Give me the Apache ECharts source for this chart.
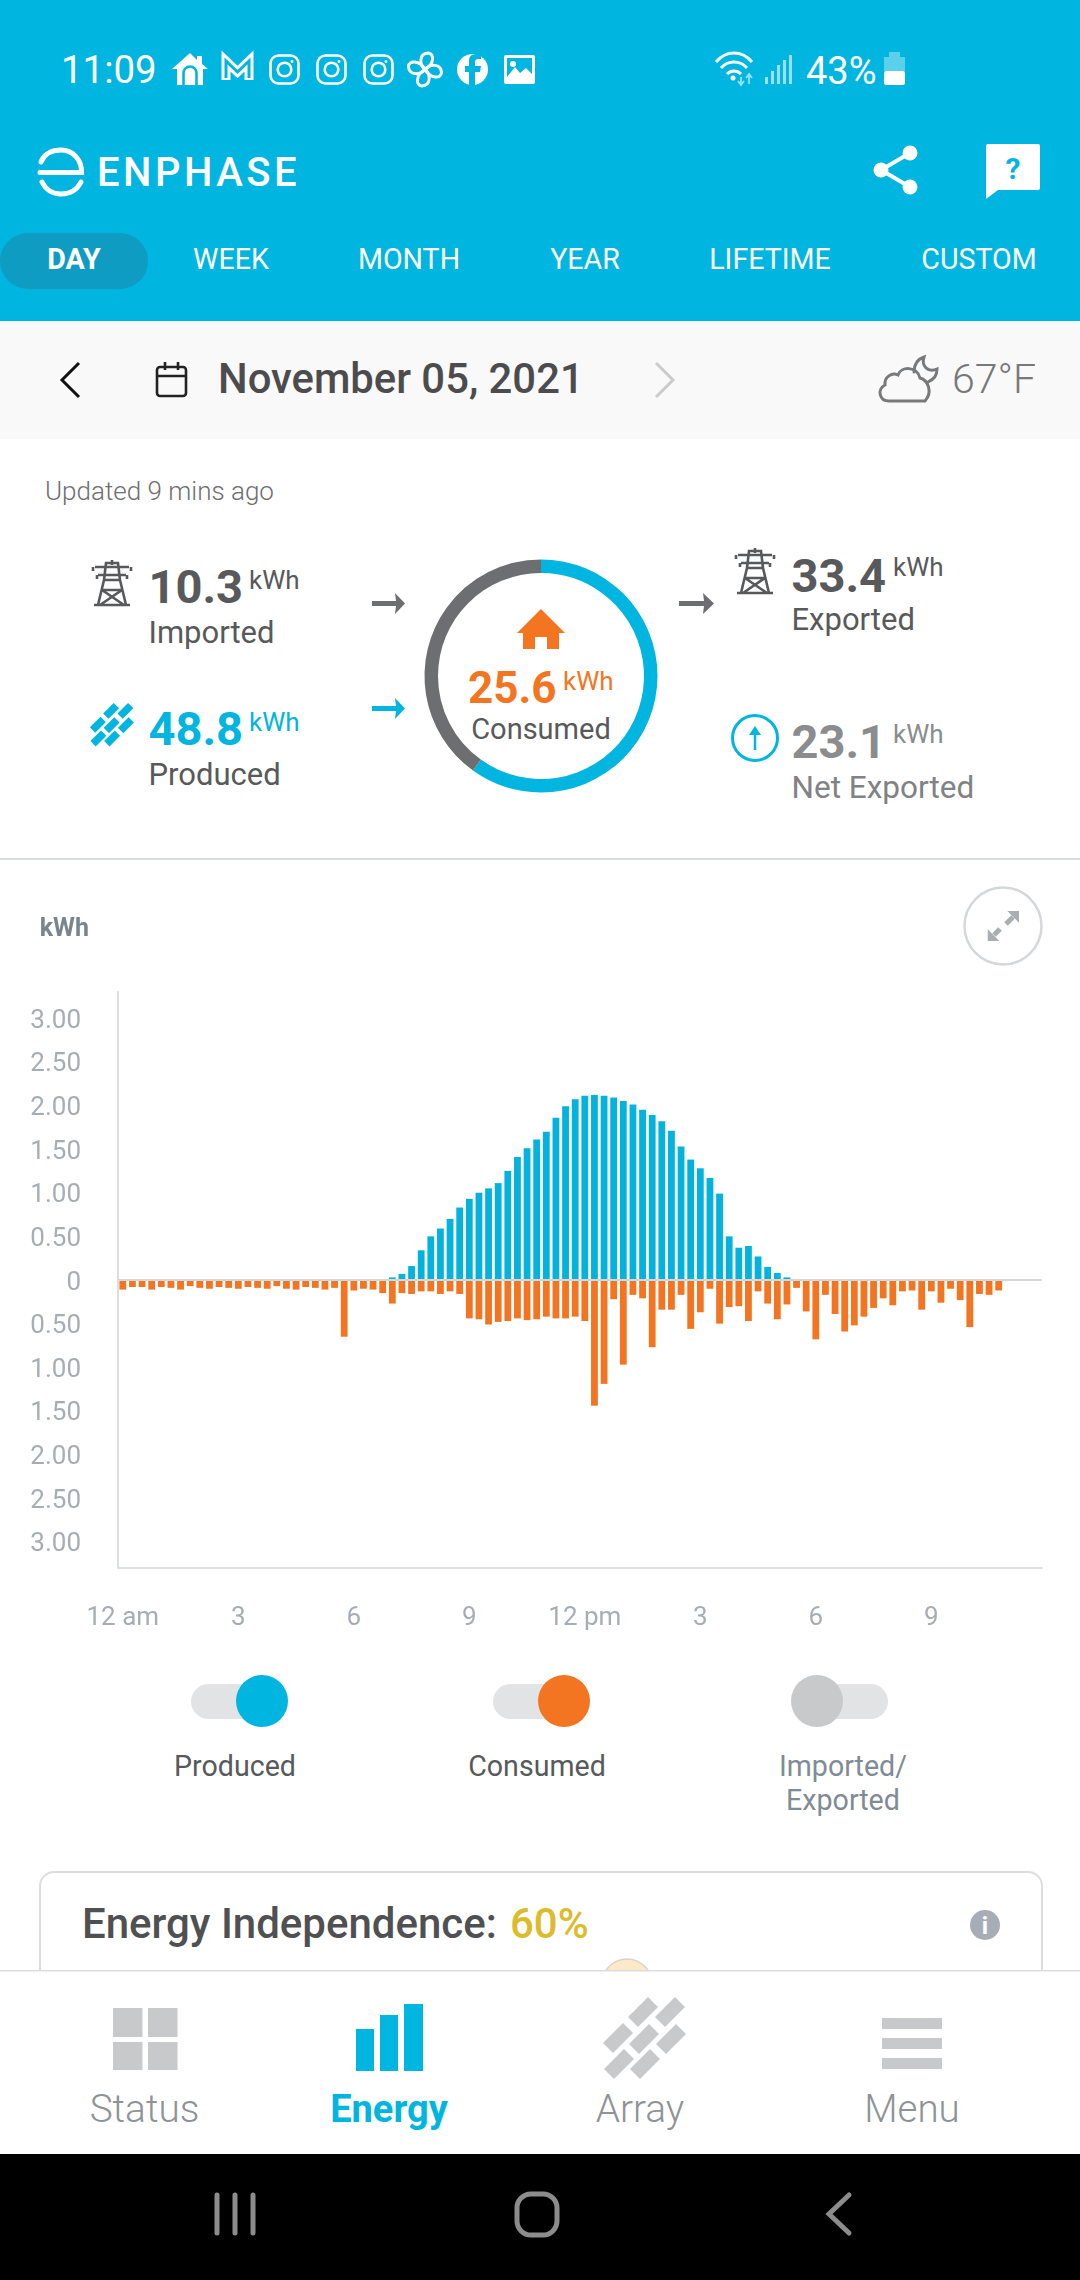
<!DOCTYPE html>
<html>
<head>
<meta charset="utf-8">
<title>Enphase energy</title>
<script src="https://cdn.jsdelivr.net/npm/echarts@6/dist/echarts.min.js"></script>
<style>
  html, body { margin: 0; padding: 0; background: #fff; }
  #page { position: relative; width: 1080px; height: 2280px; overflow: hidden; }
  #chrome, #main { position: absolute; left: 0; top: 0; width: 1080px; height: 2280px; }
  text { font-family: Roboto, sans-serif; }
</style>
</head>
<body>
<div id="page">
<svg id="chrome" width="1080" height="2280" viewBox="0 0 1080 2280" xmlns="http://www.w3.org/2000/svg">
  <defs>
    <path id="panel" d="M5 -15 L15 -5 L-5 15 L-15 5 Z"/>
    <g id="array">
      <use href="#panel" x="53" y="27"/><use href="#panel" x="80" y="27"/>
      <use href="#panel" x="28" y="53"/><use href="#panel" x="54" y="54"/><use href="#panel" x="81" y="54"/>
      <use href="#panel" x="29" y="79"/><use href="#panel" x="55" y="79"/>
    </g>
    <g id="pylon" fill="none" stroke="#58595b" stroke-width="2.6">
      <path d="M20 0 V5 M3 7 H37 M6 15 H34 M1 7 V11 M39 7 V11 M5 15 V19 M35 15 V19 M14 3 H26 L28 20 H12 Z M12 20 L6 45 M28 20 L34 45 M12 20 L28 20 M10 30 H30 M10 30 L32 45 M30 30 L8 45 M2 45 H38"/>
    </g>
    <g id="insta" fill="none" stroke="#fff" stroke-width="2.6">
      <rect x="1.5" y="1.5" width="28" height="28" rx="8"/>
      <circle cx="15.5" cy="15.5" r="6.8"/>
      <circle cx="23" cy="7.5" r="1.4" fill="#fff" stroke="none"/>
    </g>
    <path id="blade" d="M0 0 C-6 -5 -6 -16 3 -16.5 C10 -16 9 -5 0 0"/>
  </defs>

  <!-- header -->
  <rect x="0" y="0" width="1080" height="321" fill="#00b5df"/>
  <text x="61" y="83" font-size="38.4" fill="#fff">11:09</text>
  <path d="M190 53 L197 60 V56 H202 V64 L208 69 L203 69 V85 H177 V69 L172 69 Z" fill="#fff"/>
  <path d="M183.5 85 V73 A6.5 6.5 0 0 1 196.5 73 V85" fill="none" stroke="#00b5df" stroke-width="2.6"/>
  <path d="M226 80 V61 L237.5 72 L249 61 V80" fill="none" stroke="#fff" stroke-width="9"/>
  <path d="M226 78 V61 L237.5 72 L249 61 V78" fill="none" stroke="#00b5df" stroke-width="3"/>
  <use href="#insta" x="269" y="54"/><use href="#insta" x="316" y="54"/><use href="#insta" x="363" y="54"/>
  <g fill="none" stroke="#fff" stroke-width="3" transform="translate(425 69.5)">
    <use href="#blade"/>
    <use href="#blade" transform="rotate(90)"/>
    <use href="#blade" transform="rotate(180)"/>
    <use href="#blade" transform="rotate(270)"/>
  </g>
  <circle cx="472.5" cy="69.5" r="15.5" fill="#fff"/>
  <path d="M475 85 V72 H480 L481 66 H475 V62 C475 60 476 59 478 59 H481 V54 H476 C471 54 469 57 469 61 V66 H465 V72 H469 V85 Z" fill="#00b5df"/>
  <rect x="504" y="55" width="31" height="29" rx="2" fill="#fff"/>
  <path d="M507 58 H532 V74 L526 68 L520 73 L515 67 L507 77 Z" fill="#00b5df"/>
  <circle cx="513" cy="64" r="3" fill="#fff"/>

  <g fill="none" stroke="#fff" stroke-width="3">
    <path d="M716 62 C726 50 742 50 752 62" opacity="0.95"/>
    <path d="M721 68 C728 60 740 60 747 68"/>
    <path d="M727 74 C731 70 737 70 741 74"/>
  </g>
  <circle cx="733" cy="78" r="2.5" fill="#fff"/>
  <path d="M741 77 V84 M738 81 L741 85 L744 81 M749 84 V75 M746 78 L749 74 L752 78" fill="none" stroke="#fff" stroke-width="1.8" opacity="0.6"/>
  <g fill="#fff" opacity="0.6">
    <rect x="765" y="77" width="3" height="7"/><rect x="771" y="71" width="3" height="13"/>
    <rect x="777" y="65" width="3" height="19"/><rect x="783" y="60" width="3" height="24"/>
    <rect x="789" y="55" width="3" height="29"/>
  </g>
  <text x="806" y="84" font-size="38" fill="#fff">43%</text>
  <rect x="889" y="52" width="11" height="5" fill="#5ccfea"/>
  <rect x="884" y="57" width="21" height="14" fill="#5ccfea"/>
  <rect x="884" y="71" width="21" height="14" rx="2" fill="#fff"/>

  <!-- logo -->
  <g fill="none" stroke="#fff" stroke-width="5" stroke-linecap="round">
    <path d="M41 162 C44 154 52 150 61 150 C73 150 82 160 81.5 172.5 H40"/>
    <path d="M42 182 C46 190 53 194 61 194 C70 194 77 190 81 182"/>
  </g>
  <text x="97" y="186" font-size="40" font-weight="500" letter-spacing="3.5" fill="#fff">ENPHASE</text>
  <path d="M910 153 L881 170 L910 187" fill="none" stroke="#fff" stroke-width="4"/>
  <circle cx="910" cy="153" r="7.5" fill="#fff"/><circle cx="881" cy="170" r="7.5" fill="#fff"/><circle cx="910" cy="187" r="7.5" fill="#fff"/>
  <path d="M988 144 H1038 Q1040 144 1040 146 V188 Q1040 190 1038 190 H998 L986 199 V146 Q986 144 988 144 Z" fill="#fff"/>
  <text x="1013" y="179" font-size="30" font-weight="700" text-anchor="middle" fill="#00b5df">?</text>

  <!-- tabs -->
  <rect x="0" y="233" width="148" height="56" rx="28" fill="#0e9cc2"/>
  <text x="74" y="269" font-size="28.6" font-weight="700" text-anchor="middle" fill="#fff">DAY</text>
  <text x="231" y="269" font-size="28.6" text-anchor="middle" fill="#fff">WEEK</text>
  <text x="409" y="269" font-size="28.6" text-anchor="middle" fill="#fff">MONTH</text>
  <text x="585" y="269" font-size="28.6" text-anchor="middle" fill="#fff">YEAR</text>
  <text x="770" y="269" font-size="28.6" text-anchor="middle" fill="#fff">LIFETIME</text>
  <text x="979" y="269" font-size="28.6" text-anchor="middle" fill="#fff">CUSTOM</text>

  <!-- date bar -->
  <rect x="0" y="321" width="1080" height="118" fill="#f9f9f9"/>
  <path d="M79 363 L62 380 L79 397" fill="none" stroke="#111" stroke-width="3"/>
  <g fill="none" stroke="#222" stroke-width="2.6">
    <rect x="157" y="367" width="29" height="29" rx="3"/>
    <path d="M157 376 H186 M165 362 V370 M178 362 V370"/>
  </g>
  <text x="218" y="393" font-size="41.8" font-weight="500" fill="#4c4c4e">November 05, 2021</text>
  <path d="M656 363 L673 380 L656 397" fill="none" stroke="#cbcbcb" stroke-width="3"/>
  <g fill="none" stroke="#78797b" stroke-width="3" stroke-linecap="round">
    <path d="M889 401 C879 401 877 389 885 385 C884 377 892 372 898 375 C901 366 917 366 920 378 C928 380 933 392 925 401 Z"/>
    <path d="M914 372 C914 363 918 359 924 357 C921 366 928 373 937 369 C937 376 934 379 928 382"/>
  </g>
  <text x="952" y="393" font-size="41" font-weight="300" fill="#77787a">67°F</text>

  <!-- summary -->
  <text x="45" y="500" font-size="26" font-weight="300" fill="#6d6e71">Updated 9 mins ago</text>

  <use href="#pylon" x="92" y="560"/>
  <text x="148.5" y="603" font-size="47" font-weight="700" fill="#58595b">10.3</text>
  <text x="249" y="589" font-size="26" fill="#58595b">kWh</text>
  <text x="148.5" y="643" font-size="31" fill="#58595b">Imported</text>

  <use href="#array" transform="translate(83 696.6) scale(0.53)" fill="#00b5df"/>
  <text x="148.5" y="745" font-size="47" font-weight="700" fill="#00b5df">48.8</text>
  <text x="249" y="731" font-size="26" fill="#00b5df">kWh</text>
  <text x="148.5" y="785" font-size="31" fill="#58595b">Produced</text>

  <path d="M372 601 H396 L395 593 L405 603.5 L395 614 L396 606 H372 Z" fill="#6d6e71"/>
  <path d="M372 706 H396 L395 698 L405 708.5 L395 719 L396 711 H372 Z" fill="#00b5df"/>
  <path d="M679 601 H704 L703 593 L714 603.5 L703 614 L704 606 H679 Z" fill="#6d6e71"/>

  <path d="M541 609 L565 633 H559 V649 H547 V637 H535 V649 H523 V633 H517 Z" fill="#f47521"/>
  <text x="468" y="703" font-size="44" font-weight="700" fill="#f47521">25.6</text>
  <text x="563" y="690" font-size="26" fill="#f47521">kWh</text>
  <text x="541" y="739" font-size="29" text-anchor="middle" fill="#58595b">Consumed</text>

  <use href="#pylon" x="735" y="548"/>
  <text x="791.5" y="592" font-size="47" font-weight="700" fill="#58595b">33.4</text>
  <text x="893" y="576" font-size="26" fill="#58595b">kWh</text>
  <text x="791.5" y="630" font-size="31" fill="#58595b">Exported</text>

  <circle cx="755" cy="738" r="22.5" fill="none" stroke="#00b5df" stroke-width="3"/>
  <path d="M755 750 V732" stroke="#00b5df" stroke-width="2.5" fill="none"/>
  <path d="M749 735 L755 726 L761 735 Z" fill="#00b5df"/>
  <text x="791.5" y="758" font-size="47" font-weight="700" fill="#8a8c8e">23.1</text>
  <text x="893" y="743" font-size="26" fill="#8a8c8e">kWh</text>
  <text x="791.5" y="798" font-size="31.5" fill="#808285">Net Exported</text>

  <rect x="0" y="858" width="1080" height="2" fill="#d9dcdf"/>

  <!-- expand button -->
  <circle cx="1003" cy="926" r="38.5" fill="#fff" stroke="#d5d8da" stroke-width="2.5"/>
  <path d="M1007.3 911 H1019 V922.7 Z M987.7 929.3 V941 H999.3 Z" fill="#a9aeb3"/>
  <path d="M1013 917 L1006 924 M1000 929 L994 935" fill="none" stroke="#a9aeb3" stroke-width="5"/>

  <!-- series toggles -->
  <rect x="191" y="1684" width="80" height="35" rx="17.5" fill="#e2e3e5"/>
  <circle cx="262" cy="1701" r="26" fill="#00b5df"/>
  <rect x="493" y="1684" width="80" height="35" rx="17.5" fill="#e2e3e5"/>
  <circle cx="564" cy="1701" r="26" fill="#f47521"/>
  <rect x="808" y="1684" width="80" height="35" rx="17.5" fill="#e2e3e5"/>
  <circle cx="817" cy="1701" r="26" fill="#c8c9cb"/>
  <text x="235" y="1776" font-size="28.6" text-anchor="middle" fill="#58595b">Produced</text>
  <text x="537" y="1776" font-size="28.6" text-anchor="middle" fill="#58595b">Consumed</text>
  <text x="843" y="1776" font-size="28.6" text-anchor="middle" fill="#7f8b95">Imported/</text>
  <text x="843" y="1810" font-size="28.6" text-anchor="middle" fill="#7f8b95">Exported</text>

  <!-- independence card -->
  <rect x="40" y="1872" width="1002" height="180" rx="14" fill="#fff" stroke="#dcdddf" stroke-width="2"/>
  <text x="82" y="1938" font-size="42" font-weight="500" fill="#4f5052">Energy Independence:</text>
  <text x="510" y="1938" font-size="42" font-weight="500" fill="#dcbc2c">60%</text>
  <circle cx="985" cy="1925" r="15" fill="#a5aeb7"/>
  <text x="985" y="1934" font-size="24" font-weight="700" text-anchor="middle" fill="#fff">i</text>
  <circle cx="627" cy="1984" r="25" fill="#fde8c8" stroke="#d8d4cc" stroke-width="1.5"/>

  <!-- bottom nav -->
  <rect x="0" y="1970" width="1080" height="184" fill="#fff"/>
  <rect x="0" y="1970" width="1080" height="1.5" fill="#dcdddf"/>
  <g fill="#c8c9cb">
    <rect x="113" y="2008" width="29.5" height="29"/><rect x="148" y="2008" width="29.5" height="29"/>
    <rect x="113" y="2042" width="29.5" height="28"/><rect x="148" y="2042" width="29.5" height="28"/>
  </g>
  <text x="144.5" y="2122" font-size="38.8" font-weight="300" text-anchor="middle" fill="#8f9397">Status</text>
  <g fill="#00b5df">
    <rect x="356" y="2029" width="18" height="42"/><rect x="380" y="2015" width="18" height="56"/><rect x="404" y="2004" width="19" height="67"/>
  </g>
  <text x="389" y="2122" font-size="38" font-weight="700" text-anchor="middle" fill="#00b5df">Energy</text>
  <use href="#array" transform="translate(590 1985)" fill="#c8c9cb"/>
  <text x="640" y="2122" font-size="38.8" font-weight="300" text-anchor="middle" fill="#8f9397">Array</text>
  <g fill="#c8c9cb">
    <rect x="882" y="2018" width="60" height="11"/><rect x="882" y="2038" width="60" height="11"/><rect x="882" y="2058" width="60" height="11"/>
  </g>
  <text x="912" y="2122" font-size="38.5" font-weight="300" text-anchor="middle" fill="#8f9397">Menu</text>

  <!-- android nav -->
  <rect x="0" y="2154" width="1080" height="126" fill="#000"/>
  <g fill="none" stroke="#8c8c8c" stroke-width="5" stroke-linecap="round">
    <path d="M217 2195 V2233 M235 2195 V2233 M253 2195 V2233"/>
    <rect x="517" y="2194" width="40" height="41" rx="14"/>
    <path d="M849 2195 L829 2214 L849 2233"/>
  </g>
</svg>
<div id="main"></div>
</div>
<script>
var tickLabels = ['12 am', '3', '6', '9', '12 pm', '3', '6', '9'];
var yTicks = [-3, -2.5, -2, -1.5, -1, -0.5, 0, 0.5, 1, 1.5, 2, 2.5, 3];

// 15 minute slots, kWh
var produced = [
  0, 0, 0, 0, 0, 0, 0, 0, 0, 0, 0, 0,
  0, 0, 0, 0, 0, 0, 0, 0, 0, 0, 0, 0,
  0, 0, 0, 0, 0.03, 0.07, 0.16, 0.34, 0.50, 0.59, 0.70, 0.83,
  0.93, 1.00, 1.05, 1.11, 1.25, 1.41, 1.51, 1.61, 1.70, 1.86, 1.99, 2.07,
  2.11, 2.12, 2.11, 2.09, 2.05, 2.01, 1.95, 1.89, 1.82, 1.71, 1.53, 1.38,
  1.28, 1.17, 0.99, 0.50, 0.37, 0.39, 0.27, 0.15, 0.08, 0.03, 0, 0,
  0, 0, 0, 0, 0, 0, 0, 0, 0, 0, 0, 0,
  0, 0, 0, 0, 0, 0, 0, 0, 0, 0, 0, 0
];
var consumed = [
  0.11, 0.08, 0.08, 0.11, 0.08, 0.09, 0.11, 0.07, 0.09, 0.10, 0.08, 0.09,
  0.10, 0.08, 0.09, 0.10, 0.07, 0.10, 0.11, 0.08, 0.09, 0.11, 0.09, 0.65,
  0.12, 0.10, 0.11, 0.15, 0.27, 0.15, 0.16, 0.13, 0.13, 0.16, 0.13, 0.16,
  0.44, 0.45, 0.51, 0.48, 0.47, 0.44, 0.46, 0.45, 0.42, 0.44, 0.44, 0.42,
  0.47, 1.44, 1.19, 0.22, 0.97, 0.17, 0.21, 0.77, 0.34, 0.34, 0.17, 0.56,
  0.37, 0.10, 0.50, 0.31, 0.30, 0.47, 0.13, 0.27, 0.45, 0.28, 0.09, 0.36,
  0.68, 0.17, 0.39, 0.59, 0.52, 0.42, 0.32, 0.21, 0.29, 0.13, 0.12, 0.34,
  0.13, 0.26, 0.10, 0.23, 0.54, 0.16, 0.17, 0.12, null, null, null, null
];
var consumedNames = ['Produced for home', 'Imported'];
var consumedSplit = [15.4, 10.3];

var slots = produced.map(function (v, i) {
  return i % 12 === 0 ? tickLabels[i / 12] : '';
});

var myChart = echarts.init(document.getElementById('main'), null, { renderer: 'canvas' });
myChart.setOption({
  animation: false,
  backgroundColor: 'transparent',
  textStyle: { fontFamily: 'Roboto' },
  grid: { left: 118, right: 38, top: 992, height: 576 },
  xAxis: {
    type: 'category',
    data: slots,
    axisLine: { onZero: false, lineStyle: { color: '#dcdfe3', width: 2 } },
    axisTick: { show: false },
    splitLine: { show: false },
    axisLabel: { interval: 11, color: '#a6aeb5', fontSize: 26, margin: 37, hideOverlap: false }
  },
  yAxis: {
    type: 'value',
    min: -3.3,
    max: 3.3,
    name: 'kWh',
    nameLocation: 'end',
    nameGap: 50,
    nameTextStyle: { align: 'right', padding: [0, 29, 0, 0], color: '#78858f', fontSize: 25, fontWeight: 700 },
    axisLine: { show: true, lineStyle: { color: '#dcdfe3', width: 2 } },
    axisTick: { show: false, customValues: yTicks },
    splitLine: { show: false },
    axisLabel: {
      customValues: yTicks,
      color: '#a6aeb5',
      fontSize: 26,
      margin: 37,
      verticalAlign: 'top',
      padding: [-10, 0, 0, 0],
      formatter: function (v) { return v === 0 ? '0' : Math.abs(v).toFixed(2); }
    }
  },
  series: [{
    name: 'Produced',
    type: 'bar',
    stack: 'energy',
    barWidth: 6.8,
    itemStyle: { color: '#04b3dd' },
    data: produced,
    markLine: {
      silent: true,
      symbol: 'none',
      label: { show: false },
      lineStyle: { color: '#d5d8db', width: 2, type: 'solid' },
      data: [{ yAxis: 0 }]
    }
  }, {
    name: 'Consumed',
    type: 'bar',
    stack: 'energy',
    barWidth: 6.8,
    itemStyle: { color: '#f47521' },
    data: consumed.map(function (v) { return v === null ? null : -v; })
  }, {
    type: 'pie',
    silent: true,
    center: [541, 676],
    radius: [103, 116.5],
    startAngle: 90,
    label: { show: false },
    labelLine: { show: false },
    data: [
      { name: consumedNames[0], value: consumedSplit[0], itemStyle: { color: '#00b5df' } },
      { name: consumedNames[1], value: consumedSplit[1], itemStyle: { color: '#6d6e71' } }
    ]
  }]
});
</script>
</body>
</html>
